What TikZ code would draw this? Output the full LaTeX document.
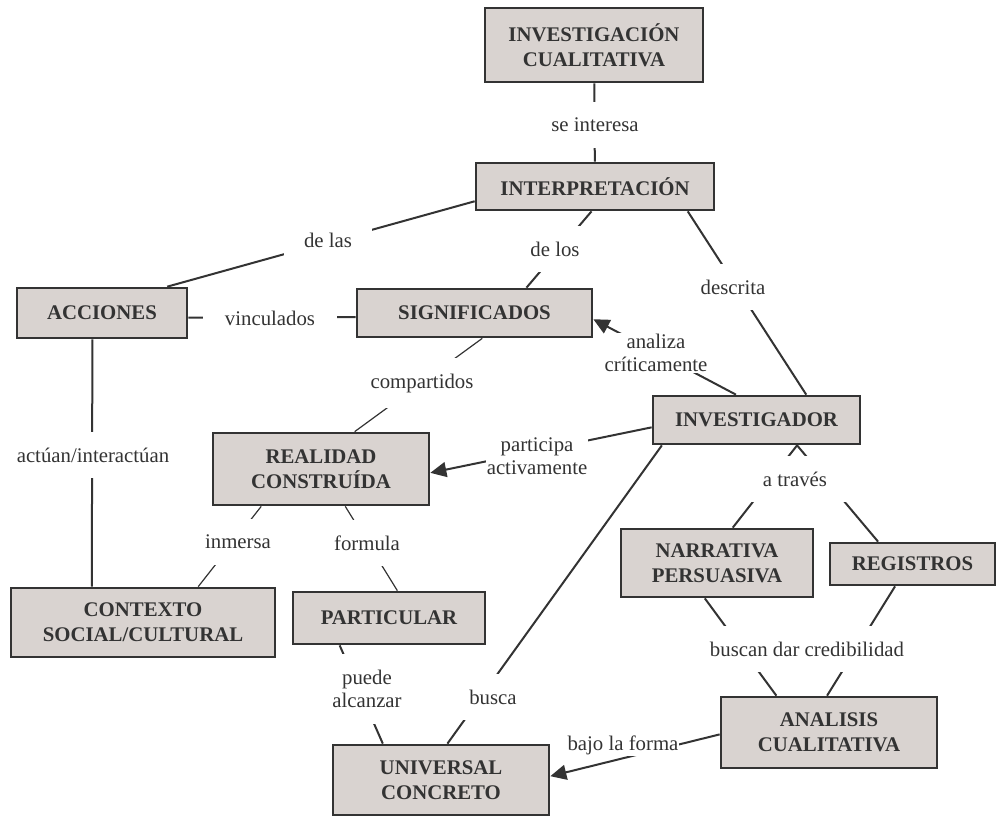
\documentclass[tikz,border=0pt]{standalone}
\usepackage{fontspec}
\setmainfont{Liberation Serif}
\usetikzlibrary{arrows.meta}
\definecolor{caja}{HTML}{D9D3D0}
\definecolor{borde}{HTML}{333333}

\begin{document}
\begin{tikzpicture}[x=0.5pt,y=-0.5pt,
  concepto/.style 2 args={draw=borde,fill=caja,line width=1.35pt,text=borde,
    font=\bfseries\fontsize{10.4}{12.5}\selectfont,align=center,inner sep=0pt,
    minimum width=#1,minimum height=#2},
  enlace/.style={fill=white,text=borde,font=\fontsize{10.4}{11.5}\selectfont,
    align=center,inner xsep=10pt,inner ysep=8pt},
  ajustado/.style={inner sep=0.5pt},
  linea/.style={draw=borde,line width=1pt},
  fina/.style={draw=borde,line width=0.6pt},
  flecha/.style={-{Triangle[length=8pt,width=7.5pt]}}]
  \useasboundingbox (0,0) rectangle (997,816);

  % conceptos
  \node[concepto={109pt}{37pt}] (invcual) at (594,45) {INVESTIGACIÓN\\CUALITATIVA};
  \node[concepto={119pt}{23.5pt}] (interp) at (595,186.5) {INTERPRETACIÓN};
  \node[concepto={85pt}{25pt}] (acciones) at (102,313) {ACCIONES};
  \node[concepto={117.5pt}{24pt}] (signif) at (474.5,313) {SIGNIFICADOS};
  \node[concepto={108pt}{36pt}] (realidad) at (321,469) {REALIDAD\\CONSTRUÍDA};
  \node[concepto={103.5pt}{24pt}] (investig) at (756.5,420) {INVESTIGADOR};
  \node[concepto={132pt}{34.5pt}] (contexto) at (143,622.5) {CONTEXTO\\SOCIAL/CULTURAL};
  \node[concepto={96pt}{26pt}] (partic) at (389,618) {PARTICULAR};
  \node[concepto={96pt}{34pt}] (narrat) at (717,563) {NARRATIVA\\PERSUASIVA};
  \node[concepto={82.5pt}{21pt}] (regist) at (912.5,564) {REGISTROS};
  \node[concepto={108pt}{35.5pt}] (analisis) at (829,732.5) {ANALISIS\\CUALITATIVA};
  \node[concepto={108pt}{35pt}] (univ) at (441,780) {UNIVERSAL\\CONCRETO};

  % enlaces
  \draw[linea] (invcual) -- (interp);
  \draw[linea] (acciones.22) -- (interp.187);
  \draw[linea] (interp.262) -- (signif.26);
  \draw[linea] (interp.345) -- (investig.27);
  \draw[linea] (acciones.357) -- (signif.182);
  \draw[linea,flecha] (investig.129) -- (signif.357);
  \draw[fina] (signif.287) -- (realidad.48);
  \draw[linea] (acciones.250) -- (contexto.145);
  \draw[linea,flecha] (investig.184) -- (realidad.358);
  \draw[fina] (realidad.212) -- (contexto.33);
  \draw[fina] (realidad.303) -- (partic.73);
  \draw[linea] (partic.209) -- (univ.148);
  \draw[linea] (investig.195) -- (univ.80);
  \draw[linea] (narrat.66) -- (investig.328);
  \draw[linea] (regist.147) -- (investig.328);
  \draw[linea] (narrat.251) -- (analisis.145);
  \draw[linea] (regist.232) -- (analisis.93);
  \draw[linea,flecha] (analisis.181) -- (univ.2);

  % frases de enlace
  \node[enlace] (lseint) at (595,125) {se interesa};
  \node[enlace] (ldelas) at (328,240) {de las};
  \node[enlace] (ldelos) at (555,249) {de los};
  \node[enlace] (ldescr) at (733,287) {descrita};
  \node[enlace,inner xsep=11pt] (lvinc) at (270,318) {vinculados};
  \node[enlace,ajustado] (lanaliza) at (656,353) {analiza\\críticamente};
  \node[enlace] (lcomp) at (422,383) {compartidos};
  \node[enlace] (lactua) at (93,455) {actúan/interactúan};
  \node[enlace,ajustado] (lparti) at (537,456) {participa\\activamente};
  \node[enlace] (latrav) at (795,479) {a través};
  \node[enlace] (linmer) at (238,542) {inmersa};
  \node[enlace] (lformu) at (367,543) {formula};
  \node[enlace] (lbuscan) at (807,649) {buscan dar credibilidad};
  \node[enlace] (lpuede) at (367,689) {puede\\alcanzar};
  \node[enlace] (lbusca) at (493,697) {busca};
  \node[enlace,ajustado] (lbajo) at (623,745) {bajo la forma};
\end{tikzpicture}
\end{document}
